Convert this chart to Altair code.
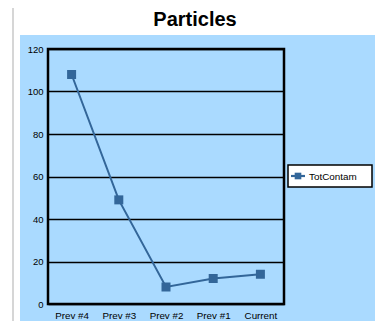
import altair as alt
import pandas as pd

categories = ["Prev #4", "Prev #3", "Prev #2", "Prev #1", "Current"]
values = [108, 49, 8, 12, 14]
series = "TotContam"
title_text = "Particles"

df = pd.DataFrame({"cat": categories, "val": values, "series": [series] * len(values)})

BLUE = "#AADAFF"
LINE = "#336699"
FONT = "Liberation Sans"

W, H = 236, 255

# decorative page-frame pieces (white header strip, white left strip, grey frame line)
frame = pd.DataFrame({"t": [title_text]})
top_band = alt.Chart(frame).mark_rect(color="white").encode(
    x=alt.value(-40), x2=alt.value(327), y=alt.value(-41), y2=alt.value(-14)
)
left_band = alt.Chart(frame).mark_rect(color="white").encode(
    x=alt.value(-40), x2=alt.value(-28), y=alt.value(-41), y2=alt.value(272)
)
grey_line = alt.Chart(frame).mark_rule(color="#C8C8C8", strokeWidth=1.5).encode(
    x=alt.value(-35), y=alt.value(-41), y2=alt.value(272)
)
title = alt.Chart(frame).mark_text(font=FONT, fontSize=20, fontWeight="bold", color="black",
                                   align="center", baseline="alphabetic").encode(
    text="t:N", x=alt.value(147), y=alt.value(-23)
)

# legend box (one entry for the single series)
leg_df = pd.DataFrame({"series": [series]})
leg_box = alt.Chart(leg_df).mark_rect(fill="white", stroke="black", strokeWidth=1.5).encode(
    x=alt.value(240), x2=alt.value(324), y=alt.value(116), y2=alt.value(138)
)
leg_line = alt.Chart(leg_df).mark_rule(color=LINE, strokeWidth=2.2).encode(
    x=alt.value(243), x2=alt.value(257), y=alt.value(127)
)
leg_pt = alt.Chart(leg_df).mark_point(shape="square", filled=True, size=44, opacity=1,
                                      color=LINE).encode(
    x=alt.value(250), y=alt.value(127)
)
leg_txt = alt.Chart(leg_df).mark_text(font=FONT, fontSize=9.9, color="black",
                                      align="left", baseline="middle").encode(
    text="series:N", x=alt.value(261), y=alt.value(127.5)
)

base = alt.Chart(df).encode(
    x=alt.X("cat:N", sort=categories, title=None,
            axis=alt.Axis(labelAngle=0, ticks=False, domain=False, grid=False,
                          labelFontSize=9.8, labelPadding=6, labelColor="black",
                          labelFont=FONT)),
    y=alt.Y("val:Q", title=None,
            scale=alt.Scale(domain=[0, 120], nice=False),
            axis=alt.Axis(values=[0, 20, 40, 60, 80, 100, 120], ticks=False, domain=False,
                          grid=True, gridColor="black", gridWidth=1.5, gridOpacity=1,
                          labelFontSize=9.5, labelPadding=5, labelColor="black",
                          labelFont=FONT)),
    color=alt.Color("series:N", scale=alt.Scale(range=[LINE]), legend=None),
)

line = base.mark_line(strokeWidth=2)
pts = base.mark_point(shape="square", filled=True, size=81, opacity=1)

chart = alt.layer(top_band, left_band, grey_line, title, line, pts,
                  leg_box, leg_line, leg_pt, leg_txt).properties(
    width=W, height=H,
    background=BLUE,
    padding={"left": 40, "top": 41, "right": 91, "bottom": 17},
    autosize=alt.AutoSizeParams(type="none"),
).configure_view(stroke="black", strokeWidth=2.5, fill=None)

chart.save("out.html", embed_options={"renderer": "svg", "actions": False})
